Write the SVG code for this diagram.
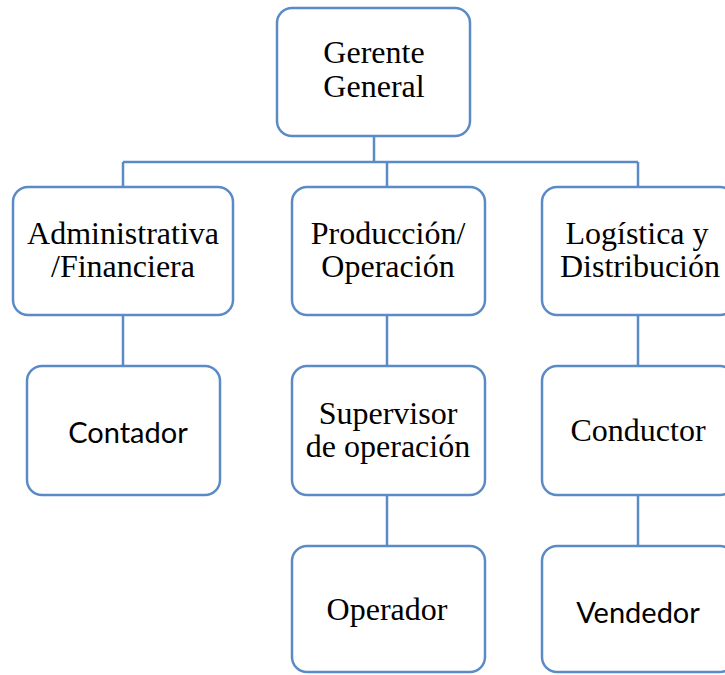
<svg xmlns="http://www.w3.org/2000/svg" width="725" height="675" viewBox="0 0 725 675">
<style>
.box{fill:#fff;stroke:#5B8BC6;stroke-width:2.5}
.ln{fill:none;stroke:#5B8BC6;stroke-width:2.5}
.t{font-family:"Liberation Serif","Times New Roman",serif;font-size:32px;fill:#000;text-anchor:middle}
.c{font-family:Lato,"Open Sans",sans-serif;font-size:29px;fill:#000;text-anchor:middle}
</style>
<rect width="725" height="675" fill="#fff"/>
<g id="connectors">
<path class="ln" d="M374 136V162M123 162H638M123 162V187M387 162V187M638 162V187M123 315V366M387 315V366M638 315V366M387 495V546M638 495V546"/>
</g>
<g id="gerente"><rect class="box" x="277" y="8" width="193" height="128" rx="15"/><text class="t" x="374" y="63">Gerente</text><text class="t" x="374" y="97">General</text></g>
<g id="admin"><rect class="box" x="13" y="187" width="220" height="128" rx="15"/><text class="t" x="123" y="244">Administrativa</text><text class="t" x="123" y="277">/Financiera</text></g>
<g id="produccion"><rect class="box" x="292" y="187" width="193" height="128" rx="15"/><text class="t" x="388" y="244">Producción/</text><text class="t" x="388" y="277">Operación</text></g>
<g id="logistica"><rect class="box" x="542" y="187" width="193" height="128" rx="15"/><text class="t" x="637" y="244">Logística y</text><text class="t" x="640" y="277">Distribución</text></g>
<g id="contador"><rect class="box" x="27" y="366" width="193" height="129" rx="15"/><text class="c" x="128" y="443">Contador</text></g>
<g id="supervisor"><rect class="box" x="292" y="366" width="193" height="129" rx="15"/><text class="t" x="388" y="424">Supervisor</text><text class="t" x="388" y="457">de operación</text></g>
<g id="conductor"><rect class="box" x="542" y="366" width="193" height="129" rx="15"/><text class="t" x="638" y="441">Conductor</text></g>
<g id="operador"><rect class="box" x="292" y="546" width="193" height="126" rx="15"/><text class="t" x="387" y="620">Operador</text></g>
<g id="vendedor"><rect class="box" x="542" y="546" width="193" height="126" rx="15"/><text class="c" x="638" y="623">Vendedor</text></g>
</svg>
